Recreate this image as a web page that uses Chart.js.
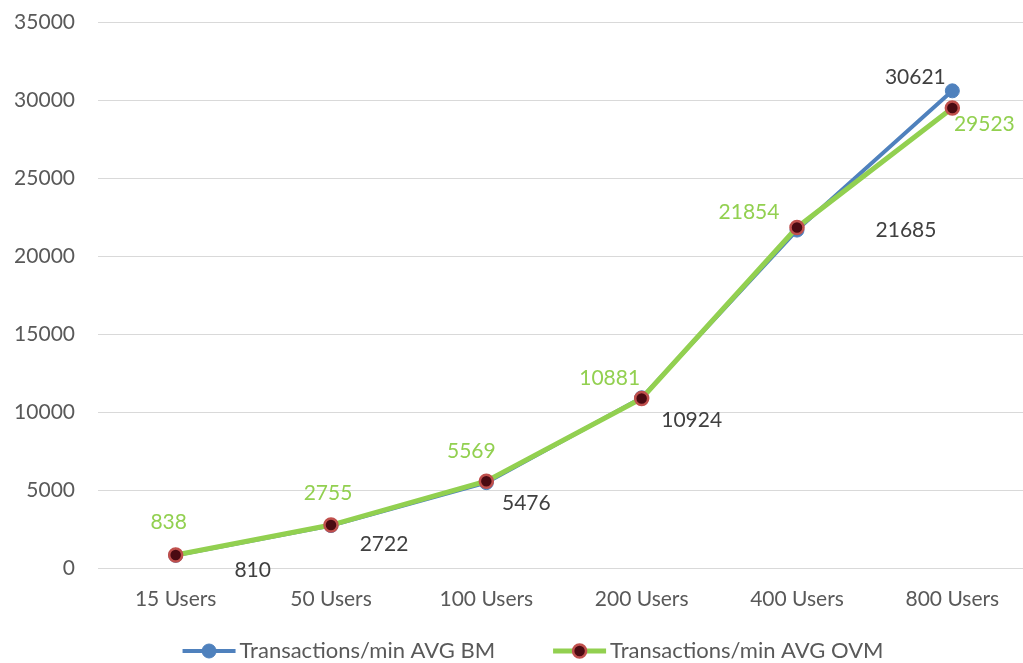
<!DOCTYPE html>
<html>
<head>
<meta charset="utf-8">
<script src="https://cdn.jsdelivr.net/npm/chart.js@4/dist/chart.umd.min.js"></script>
<style>
  html, body { margin: 0; padding: 0; background: #fff; overflow: hidden; }
  #wrap { width: 1039px; height: 676px; margin-top: -13px; }
</style>
</head>
<body>
<div id="wrap"><canvas id="chart" width="1039" height="676"></canvas></div>
<script>
// data
const categories = ['15 Users', '50 Users', '100 Users', '200 Users', '400 Users', '800 Users'];
const bmValues = [810, 2722, 5476, 10924, 21685, 30621];
const ovmValues = [838, 2755, 5569, 10881, 21854, 29523];
const yTicks = [0, 5000, 10000, 15000, 20000, 25000, 30000, 35000];

const FONT = 'Lato, "Noto Sans", sans-serif';
const TEXT = '#595959';
const BLUE = '#4F81BD';
const GREEN = '#92D050';

// where each value label sits next to its point (px), like Excel placed them
const bmLabelShift = [[77, 15], [53, 19], [40, 21], [50, 22], [109, 0], [-37, -14]];
const ovmLabelShift = [[-7, -33], [-3, -32], [-15, -30], [-32, -20], [-48, -15], [32, 16]];

const valueLabels = {
    id: 'valueLabels',
    afterDatasetsDraw(chart) {
        const ctx = chart.ctx;
        ctx.save();
        ctx.font = '21px ' + FONT;
        ctx.textAlign = 'center';
        ctx.textBaseline = 'middle';
        chart.data.datasets.forEach((ds, i) => {
            const meta = chart.getDatasetMeta(i);
            ctx.fillStyle = ds.labelColor;
            meta.data.forEach((pt, j) => {
                const s = ds.labelShift[j];
                ctx.fillText(String(ds.data[j]), pt.x + s[0], pt.y + s[1]);
            });
        });
        ctx.restore();
    }
};

// legend: line with marker, then text, centred under the plot like Excel
const lineLegend = {
    id: 'lineLegend',
    afterDraw(chart) {
        const ctx = chart.ctx;
        const y = chart.height - 12;
        const lineLen = 53, gapText = 4, gapItems = 58;
        ctx.save();
        ctx.font = '22px ' + FONT;
        ctx.textBaseline = 'middle';
        const items = [chart.data.datasets[0], chart.data.datasets[1]];
        const widths = items.map(d => lineLen + gapText + ctx.measureText(d.label).width);
        const total = widths[0] + widths[1] + gapItems;
        let x = 533 - total / 2;
        items.forEach((d, i) => {
            ctx.strokeStyle = d.borderColor;
            ctx.lineWidth = d.borderWidth;
            ctx.beginPath();
            ctx.moveTo(x, y);
            ctx.lineTo(x + lineLen, y);
            ctx.stroke();
            ctx.beginPath();
            ctx.arc(x + lineLen / 2, y, d.pointRadius, 0, Math.PI * 2);
            ctx.fillStyle = d.pointBackgroundColor;
            ctx.fill();
            ctx.lineWidth = d.pointBorderWidth;
            ctx.strokeStyle = d.pointBorderColor;
            ctx.stroke();
            ctx.fillStyle = TEXT;
            ctx.fillText(d.label, x + lineLen + gapText, y);
            x += widths[i] + gapItems;
        });
        ctx.restore();
    }
};

new Chart(document.getElementById('chart'), {
    type: 'line',
    data: {
        labels: categories,
        datasets: [
            {
                label: 'Transactions/min AVG BM',
                data: bmValues,
                borderColor: BLUE,
                borderWidth: 4,
                pointRadius: 7,
                pointBackgroundColor: BLUE,
                pointBorderColor: BLUE,
                pointBorderWidth: 1,
                labelColor: '#404040',
                labelShift: bmLabelShift,
                tension: 0,
                order: 1
            },
            {
                label: 'Transactions/min AVG OVM',
                data: ovmValues,
                borderColor: GREEN,
                borderWidth: 5,
                pointRadius: 6.5,
                pointBackgroundColor: '#4A0A12',
                pointBorderColor: '#C0504D',
                pointBorderWidth: 2.5,
                labelColor: GREEN,
                labelShift: ovmLabelShift,
                tension: 0,
                order: 0
            }
        ]
    },
    options: {
        responsive: false,
        animation: false,
        layout: { padding: { top: 0, right: 0, bottom: 45, left: 0 } },
        plugins: {
            legend: { display: false },
            tooltip: { enabled: false }
        },
        scales: {
            x: {
                offset: true,
                grid: { display: false, drawTicks: false },
                border: { color: '#D9D9D9', width: 1 },
                ticks: { color: TEXT, font: { family: FONT, size: 21 }, padding: 19 },
                afterFit(scale) { scale.height = 50; }
            },
            y: {
                min: 0,
                max: 35000,
                afterBuildTicks(scale) { scale.ticks = yTicks.map(v => ({ value: v })); },
                grid: { color: '#D9D9D9', drawTicks: false },
                border: { display: false },
                ticks: {
                    color: TEXT,
                    font: { family: FONT, size: 21 },
                    padding: 23,
                    callback: v => String(v)
                },
                afterFit(scale) { scale.width = 98; }
            }
        }
    },
    plugins: [valueLabels, lineLegend]
});
</script>
</body>
</html>
